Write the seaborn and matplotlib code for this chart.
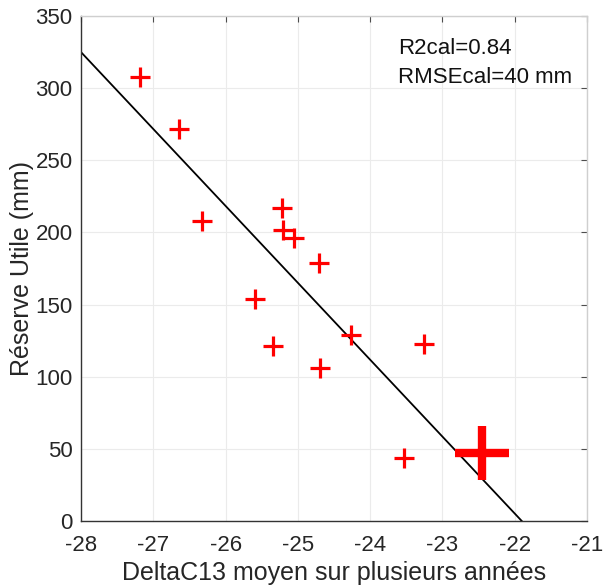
import numpy as np
import matplotlib
matplotlib.use('Agg')
import matplotlib.pyplot as plt
import seaborn as sns
import pandas as pd

# observed sites
delta_c13 = [-27.18, -26.65, -26.32, -25.59, -25.35, -25.22, -25.20, -25.06,
             -24.71, -24.70, -24.27, -23.26, -23.53]
reserve_utile = [308, 272, 208, 154, 121, 217, 202, 196, 179, 106, 129, 123, 44]

# highlighted site
big_x = [-22.45]
big_y = [47]

# calibration line
fit_slope = -53.3
fit_intercept = -1167.4
x_range = [-28, -21]

r2_text = 'R2cal=0.84'
rmse_text = 'RMSEcal=40 mm'

sns.set_style('whitegrid', {'grid.color': '#ebebeb', 'axes.edgecolor': '#4d4d4d',
                            'xtick.direction': 'in', 'ytick.direction': 'in'})
plt.rcParams['font.family'] = ['Liberation Sans', 'DejaVu Sans']
plt.rcParams['axes.unicode_minus'] = False

fig = plt.figure(figsize=(6.03, 5.87), dpi=100)
ax = fig.add_axes([0.1343, 0.1124, 0.8392, 0.8603])

xs = np.linspace(x_range[0], x_range[1], 50)
line_df = pd.DataFrame({'x': xs, 'y': fit_slope * xs + fit_intercept})
sns.lineplot(data=line_df, x='x', y='y', color='black', linewidth=1.3, ax=ax)

df = pd.DataFrame({'x': delta_c13, 'y': reserve_utile})
sns.scatterplot(data=df, x='x', y='y', marker='+', s=190, linewidth=2.3,
                color='#ff0000', ax=ax, zorder=3)
big = pd.DataFrame({'x': big_x, 'y': big_y})
sns.scatterplot(data=big, x='x', y='y', marker='+', s=1560, linewidth=6,
                color='#ff0000', ax=ax, zorder=3)

ax.set_xlim(-28, -21)
ax.set_ylim(0, 350)
ax.set_xticks(range(-28, -20))
ax.set_yticks(range(0, 351, 50))
ax.tick_params(axis='both', labelsize=16, labelcolor='#262626', color='#4d4d4d',
               length=4, width=0.8, top=True, right=True, direction='in')
ax.tick_params(axis='x', pad=10)
ax.tick_params(axis='y', pad=6)
ax.set_xlabel('DeltaC13 moyen sur plusieurs années', fontsize=18, color='#262626', labelpad=4)
ax.set_ylabel('Réserve Utile (mm)', fontsize=18, color='#262626', labelpad=1)
for side in ['bottom', 'left']:
    ax.spines[side].set_color('#333333')
    ax.spines[side].set_linewidth(1.0)
for side in ['top', 'right']:
    ax.spines[side].set_color('#cfcfcf')
    ax.spines[side].set_linewidth(1.0)

ax.text(0.627, 0.925, r2_text, transform=ax.transAxes, fontsize=16, color='#111111',
        va='baseline', ha='left')
ax.text(0.627, 0.867, rmse_text, transform=ax.transAxes, fontsize=16, color='#111111',
        va='baseline', ha='left')

fig.savefig('out.png', dpi=100)
